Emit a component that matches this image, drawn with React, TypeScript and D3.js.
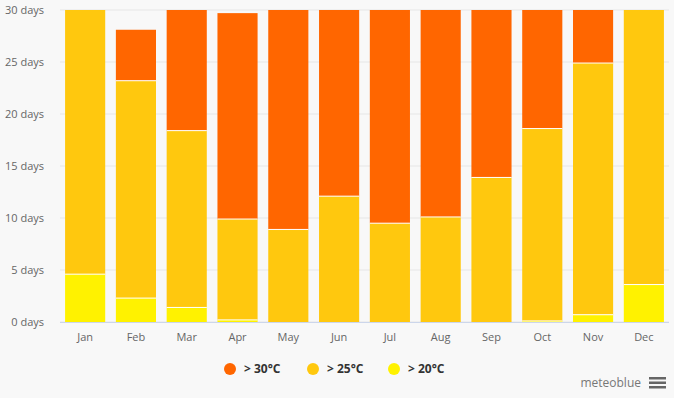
import React from "react";
import * as d3 from "d3";

const width = 674;
const height = 398;
const margin = { top: 10, right: 5, bottom: 76, left: 60 };

const months = ["Jan", "Feb", "Mar", "Apr", "May", "Jun", "Jul", "Aug", "Sep", "Oct", "Nov", "Dec"];
// days per month in each temperature class (bottom to top of stack)
const above20 = [4.6, 2.3, 1.4, 0.2, 0, 0, 0, 0, 0, 0.1, 0.7, 3.6];
const above25 = [26.4, 20.9, 17.0, 9.7, 8.9, 12.1, 9.5, 10.1, 13.9, 18.5, 24.2, 27.4];
const above30 = [0, 4.9, 12.6, 19.8, 22.1, 17.9, 21.5, 20.9, 16.1, 12.4, 5.1, 0];
const yTicks = [0, 5, 10, 15, 20, 25, 30];

const seriesNames = ["> 30°C", "> 25°C", "> 20°C"];
const seriesColors = ["#ff6600", "#ffc80e", "#fff200"];

const font = "'Open Sans', 'Noto Sans', sans-serif";

export default function App() {
  const boundsWidth = width - margin.left - margin.right;
  const boundsHeight = height - margin.top - margin.bottom;

  const xScale = d3.scaleBand().domain(months).range([0, boundsWidth]).paddingInner(0.21).paddingOuter(0.1);
  const yScale = d3.scaleLinear().domain([0, 30]).range([boundsHeight, 0]);

  const table = months.map((m, i) => ({ month: m, a20: above20[i], a25: above25[i], a30: above30[i] }));
  const stack = d3.stack<any>().keys(["a20", "a25", "a30"]);
  const layers = stack(table);
  const layerColors = [seriesColors[2], seriesColors[1], seriesColors[0]];

  const legendX = [230, 313, 394];

  return (
    <div style={{ position: "fixed", left: 0, top: 0 }}>
      <svg width={width} height={height} style={{ display: "block", background: "#f8f8f8" }} fontFamily={font}>
        <defs>
          <clipPath id="plotClip">
            <rect x={0} y={0} width={boundsWidth} height={boundsHeight} />
          </clipPath>
        </defs>
        <g transform={`translate(${margin.left},${margin.top})`}>
          {yTicks.map((t) => (
            <g key={t}>
              <line x1={0} x2={boundsWidth} y1={yScale(t)} y2={yScale(t)} stroke="#e6e6e6" strokeWidth={1} />
              <text x={-16} y={yScale(t)} dy="0.35em" textAnchor="end" fontSize={11} fill="#666">
                {t} days
              </text>
            </g>
          ))}
          <g clipPath="url(#plotClip)">
            {layers.map((layer, li) =>
              layer.map((d, i) => {
                if (d[1] - d[0] <= 0) return null;
                return (
                  <rect
                    key={`${li}-${i}`}
                    x={xScale(months[i])}
                    y={yScale(d[1])}
                    width={xScale.bandwidth()}
                    height={yScale(d[0]) - yScale(d[1])}
                    fill={layerColors[li]}
                  />
                );
              })
            )}
            {/* white separators between stacked segments */}
            {layers.map((layer, li) =>
              layer.map((d, i) => {
                if (d[1] - d[0] <= 0 || d[0] <= 0) return null;
                return (
                  <line
                    key={`s-${li}-${i}`}
                    x1={xScale(months[i])}
                    x2={(xScale(months[i]) ?? 0) + xScale.bandwidth()}
                    y1={yScale(d[0])}
                    y2={yScale(d[0])}
                    stroke="#ffffff"
                    strokeWidth={1}
                  />
                );
              })
            )}
          </g>
          <line x1={0} x2={boundsWidth} y1={boundsHeight + 0.5} y2={boundsHeight + 0.5} stroke="#ccd6eb" />
          {months.map((m) => (
            <text
              key={m}
              x={(xScale(m) ?? 0) + xScale.bandwidth() / 2}
              y={boundsHeight + 19}
              textAnchor="middle"
              fontSize={11}
              fill="#666"
            >
              {m}
            </text>
          ))}
        </g>
        {seriesNames.map((name, i) => (
          <g key={name} transform={`translate(${legendX[i]},369)`}>
            <circle cx={0} cy={0} r={6} fill={seriesColors[i]} />
            <text x={14} y={0} dy="0.35em" fontSize={12} fontWeight="bold" fill="#333">
              {name}
            </text>
          </g>
        ))}
        <text x={641} y={387} textAnchor="end" fontSize={12} fill="#777">
          meteoblue
        </text>
        <g fill="#666">
          <rect x={649} y={377} width={17} height={2.5} />
          <rect x={649} y={381.5} width={17} height={2.5} />
          <rect x={649} y={386} width={17} height={2.5} />
        </g>
      </svg>
    </div>
  );
}
